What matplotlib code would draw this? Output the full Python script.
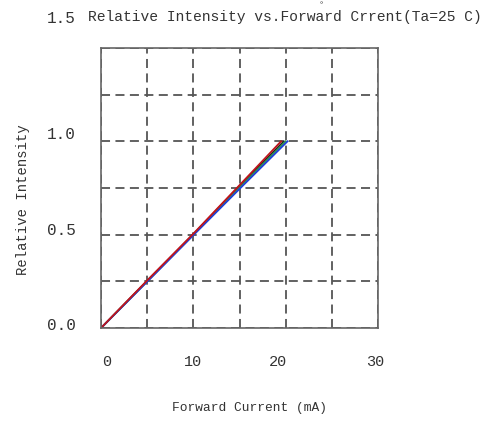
import matplotlib.pyplot as plt
from matplotlib.ticker import MultipleLocator

# forward current (mA) and relative intensity, four traces
current_red = [0, 5, 10, 15, 19.5]
intensity_red = [0, 0.255, 0.505, 0.765, 1.0]
current_black = [0, 5, 10, 15, 19.8]
intensity_black = [0, 0.252, 0.502, 0.76, 1.0]
current_green = [0, 5, 10, 15, 20.0]
intensity_green = [0, 0.25, 0.5, 0.752, 1.0]
current_blue = [0, 5, 10, 15, 20.2]
intensity_blue = [0, 0.248, 0.497, 0.745, 1.0]

x_ticks = [0, 10, 20, 30]
x_tick_pos = [0.6, 10.0, 19.2, 29.7]
y_ticks = ['0.0', '0.5', '1.0', '1.5']
y_tick_pos = [0.016, 0.525, 1.034, 1.66]

mono = 'Liberation Mono'
txt = '#333333'

fig = plt.figure(figsize=(4.97, 4.22), dpi=100)
ax = fig.add_axes([0.2032, 0.2227, 0.5574, 0.6636])

ax.plot(current_black, intensity_black, color='#222222', lw=1.3)
ax.plot(current_green, intensity_green, color='#2e9e4a', lw=1.3)
ax.plot(current_blue, intensity_blue, color='#1f3fd8', lw=1.3)
ax.plot(current_red, intensity_red, color='#c0141c', lw=1.3)

ax.set_xlim(0, 30)
ax.set_ylim(0, 1.5)
ax.xaxis.set_major_locator(MultipleLocator(5))
ax.yaxis.set_major_locator(MultipleLocator(0.25))
ax.grid(True, color='#555555', lw=1.3, linestyle=(0, (5, 3)))
ax.tick_params(length=0, labelbottom=False, labelleft=False)
for s in ax.spines.values():
    s.set_color('#666666')
    s.set_linewidth(1.2)

for v, p in zip(x_ticks, x_tick_pos):
    ax.text(p, -0.182, str(v), ha='center', va='center', fontsize=11,
            family=mono, color=txt, clip_on=False)
for lab, p in zip(y_ticks, y_tick_pos):
    ax.text(-0.092, p, lab, ha='right', va='center', fontsize=11.5,
            family=mono, color=txt, clip_on=False,
            transform=ax.get_yaxis_transform())

fig.text(0.574, 0.960, 'Relative Intensity vs.Forward Crrent(Ta=25 C)',
         ha='center', va='center', fontsize=10.5, family=mono, color=txt)
fig.text(0.646, 0.986, '°', ha='center', va='center', fontsize=6,
         family=mono, color=txt)
fig.text(0.503, 0.033, 'Forward Current (mA)', ha='center', va='center',
         fontsize=9.3, family=mono, color=txt)
fig.text(0.046, 0.526, 'Relative Intensity', ha='center', va='center',
         rotation=90, fontsize=10, family=mono, color=txt)

fig.savefig('out.png', dpi=100)
